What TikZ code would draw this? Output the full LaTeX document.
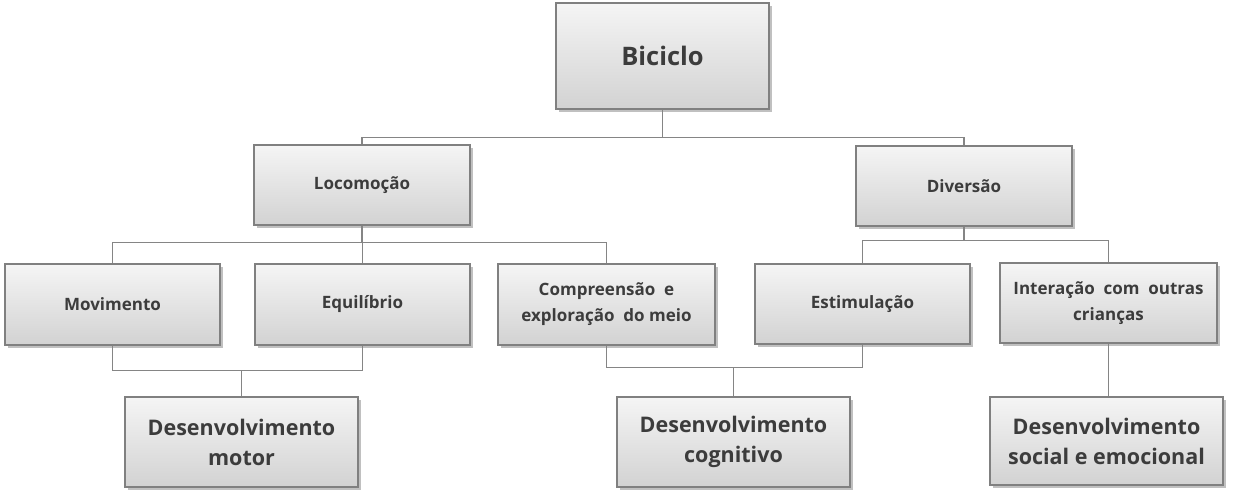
\documentclass[tikz,border=0pt]{standalone}
\usepackage{fontspec}
\setmainfont{Open Sans}
\usetikzlibrary{shadows}
\definecolor{txt}{HTML}{3C3C3C}
\definecolor{edge}{HTML}{808080}
\definecolor{wire}{HTML}{858585}
\definecolor{topc}{HTML}{F5F5F5}
\definecolor{botc}{HTML}{D2D2D2}
\tikzset{
  box/.style={draw=edge, line width=1.1pt, top color=topc, bottom color=botc,
    text=txt, align=center, inner sep=2pt, font=\bfseries,
    drop shadow={shadow xshift=2.5pt, shadow yshift=-2.5pt, opacity=0.45, fill=black!55}},
  smallbox/.style={box, font=\bfseries\fontsize{17}{26}\selectfont},
  bigbox/.style={box, font=\bfseries\fontsize{21.5}{30}\selectfont},
  wirel/.style={draw=wire, line width=1.3pt}
}
\begin{document}
\begin{tikzpicture}[x=1pt,y=-1pt]
\useasboundingbox (0,0) rectangle (1239,499);
\node[box, minimum width=213pt, minimum height=106pt, font=\bfseries\fontsize{25.5}{30}\selectfont] (bic) at (662.5,56) {Biciclo};
\node[smallbox, minimum width=216pt, minimum height=80pt] (loc) at (362,185) {Locomoção};
\node[smallbox, minimum width=216pt, minimum height=80pt] (div) at (964,186) {Diversão};
\node[smallbox, minimum width=215pt, minimum height=81pt] (mov) at (112.5,304.5) {Movimento};
\node[smallbox, minimum width=215pt, minimum height=81pt] (equ) at (362.5,304.5) {Equilíbrio};
\node[smallbox, minimum width=217pt, minimum height=81pt] (com) at (606.5,304.5) {Compreensão\ \ e\\exploração\ \ do meio};
\node[smallbox, minimum width=215pt, minimum height=80pt] (est) at (862.5,304) {Estimulação};
\node[smallbox, minimum width=217pt, minimum height=80pt] (int) at (1108.5,303) {Interação\ \ com\ \ outras\\crianças};
\node[bigbox, minimum width=233pt, minimum height=90pt] (dm) at (241.5,442) {Desenvolvimento\\motor};
\node[bigbox, minimum width=233pt, minimum height=90pt] (dc) at (733.5,442) {Desenvolvimento\\cognitivo};
\node[bigbox, minimum width=233pt, minimum height=88pt] (ds) at (1106.5,441) {Desenvolvimento\\social e emocional};
% connectors
\path (bic.south) -- ++(0,28) coordinate (j1);
\draw[wirel] (loc.north) |- (j1) -| (div.north);
\draw[wirel] (bic.south) -- (j1);
\path (loc.south) -- ++(0,17) coordinate (j2);
\draw[wirel] (loc.south) -- (j2);
\draw[wirel] (mov.north) |- (j2) -| (com.north);
\draw[wirel] (j2) -| (equ.north);
\path (div.south) -- ++(0,14) coordinate (j3);
\draw[wirel] (div.south) -- (j3);
\draw[wirel] (est.north) |- (j3) -| (int.north);
\path (mov.south) -- ++(0,25) coordinate (j4);
\draw[wirel] (mov.south) -- (j4) -| (equ.south);
\draw[wirel] (j4 -| dm.north) -- (dm.north);
\path (com.south) -- ++(0,22) coordinate (j5);
\draw[wirel] (com.south) -- (j5) -| (est.south);
\draw[wirel] (j5 -| dc.north) -- (dc.north);
\draw[wirel] (int.south) -- (int.south |- ds.north);
\end{tikzpicture}
\end{document}
